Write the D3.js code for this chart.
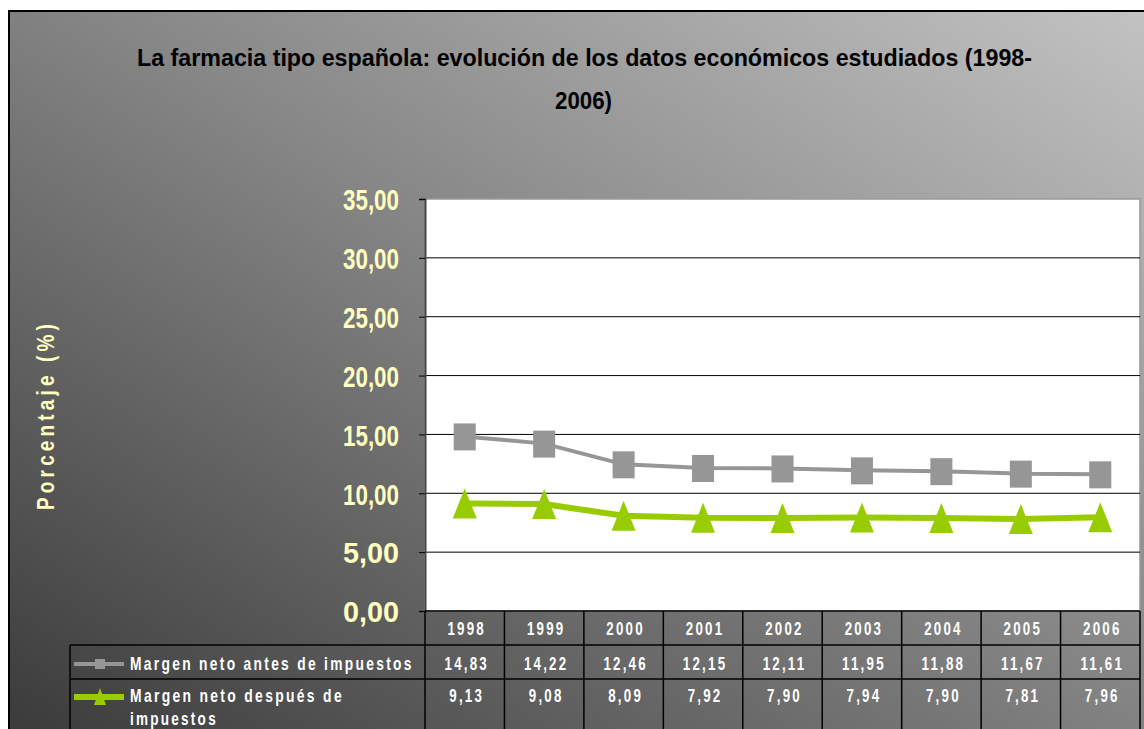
<!DOCTYPE html>
<html>
<head>
<meta charset="utf-8">
<script src="https://cdn.jsdelivr.net/npm/d3@7"></script>
<style>
  html, body { margin: 0; padding: 0; background: #fff; overflow: hidden; }
  text { font-family: "Liberation Sans Narrow", "Arial Narrow", "Liberation Sans", sans-serif; font-weight: bold; }
</style>
</head>
<body>
<div id="chart"></div>
<script>
const years = ["1998", "1999", "2000", "2001", "2002", "2003", "2004", "2005", "2006"];
const antes = [14.83, 14.22, 12.46, 12.15, 12.11, 11.95, 11.88, 11.67, 11.61];
const despues = [9.13, 9.08, 8.09, 7.92, 7.90, 7.94, 7.90, 7.81, 7.96];
const yTicks = [0, 5, 10, 15, 20, 25, 30, 35];
const seriesNames = ["Margen neto antes de impuestos", "Margen neto después de impuestos"];

const W = 1144, H = 729;
const plot = { left: 425, right: 1140, top: 199, bottom: 611 };

const es = d3.formatLocale({ decimal: ",", thousands: ".", grouping: [3], currency: ["", "€"] });
const fmt = es.format(".2f");

// no condensed font installed: squeeze glyphs to the widths seen in the picture
const squeeze = (sel, len) => sel.attr("textLength", len).attr("lengthAdjust", "spacingAndGlyphs");

// narrow a text horizontally with a transform so its box stays true
function narrow(sel, x0, y0, k, rot) {
  sel.attr("x", 0).attr("y", 0)
    .attr("transform", `translate(${x0},${y0})${rot ? " rotate(-90)" : ""} scale(${k},1)`);
  return sel;
}

const svg = d3.select("#chart").append("svg")
  .attr("width", W).attr("height", H);

const defs = svg.append("defs");
const grad = defs.append("linearGradient")
  .attr("id", "bg").attr("x1", "0%").attr("y1", "100%").attr("x2", "100%").attr("y2", "0%");
grad.append("stop").attr("offset", "0%").attr("stop-color", "#383838");
grad.append("stop").attr("offset", "55%").attr("stop-color", "#888");
grad.append("stop").attr("offset", "100%").attr("stop-color", "#c4c4c4");

// frame
svg.append("rect")
  .attr("x", 9).attr("y", 11).attr("width", W + 20).attr("height", H + 20)
  .attr("fill", "url(#bg)").attr("stroke", "#000").attr("stroke-width", 2);

// title
squeeze(svg.append("text").attr("x", 137).attr("y", 66)
  .attr("font-size", 24).attr("fill", "#000")
  .text("La farmacia tipo española: evolución de los datos económicos estudiados (1998-"), 895);
squeeze(svg.append("text").attr("x", 555).attr("y", 109)
  .attr("font-size", 24).attr("fill", "#000")
  .text("2006)"), 57);

const x = d3.scaleBand().domain(years).range([plot.left, plot.right]);
const y = d3.scaleLinear().domain([0, 35]).range([plot.bottom, plot.top]);

// plot area
svg.append("rect")
  .attr("x", plot.left).attr("y", plot.top)
  .attr("width", plot.right - plot.left).attr("height", plot.bottom - plot.top)
  .attr("fill", "#fff").attr("stroke", "#999").attr("stroke-width", 1.5);

// gridlines
svg.append("g").selectAll("line").data(yTicks.filter(d => d > 0 && d < 35)).join("line")
  .attr("x1", plot.left).attr("x2", plot.right)
  .attr("y1", d => y(d)).attr("y2", d => y(d))
  .attr("stroke", "#000").attr("stroke-width", 1);

// y axis
const yAxis = svg.append("g")
  .attr("transform", `translate(${plot.left},0)`)
  .call(d3.axisLeft(y).tickValues(yTicks).tickFormat(fmt).tickSize(6).tickPadding(20));
yAxis.select(".domain").attr("stroke", "#444").attr("stroke-width", 2);
yAxis.selectAll(".tick line").attr("stroke", "#000");
yAxis.selectAll(".tick text")
  .attr("fill", "#ffffc0").attr("font-size", 30)
  .attr("font-family", null).attr("font-weight", null)
  .attr("dy", "0.36em")
  .attr("textLength", 56).attr("lengthAdjust", "spacingAndGlyphs");

// y title
const yTitle = svg.append("text")
  .attr("text-anchor", "middle")
  .attr("font-size", 23).attr("letter-spacing", 5).attr("fill", "#ffffc0")
  .text("Porcentaje (%)");
narrow(yTitle, 54, 415, 190 / yTitle.node().getComputedTextLength(), true);

// series
const line = d3.line().x((d, i) => x(years[i]) + x.bandwidth() / 2).y(d => y(d));
const triangle = (w, up, down) => `M0,${-up}L${w / 2},${down}L${-w / 2},${down}Z`;

svg.append("path").datum(antes).attr("d", line)
  .attr("fill", "none").attr("stroke", "#969696").attr("stroke-width", 4);
svg.append("g").selectAll("rect").data(antes).join("rect")
  .attr("x", (d, i) => x(years[i]) + x.bandwidth() / 2 - 11)
  .attr("y", d => y(d) - 13)
  .attr("width", 22).attr("height", 27)
  .attr("fill", "#969696");

svg.append("path").datum(despues).attr("d", line)
  .attr("fill", "none").attr("stroke", "#99cc00").attr("stroke-width", 6);
svg.append("g").selectAll("path").data(despues).join("path")
  .attr("transform", (d, i) => `translate(${x(years[i]) + x.bandwidth() / 2},${y(d)})`)
  .attr("d", triangle(24, 15, 15)).attr("fill", "#99cc00");

// data table
const tbl = { left: 70, r0: 611, r1: 645, r2: 679, bottom: H + 20 };
const tg = svg.append("g").attr("stroke", "#000").attr("stroke-width", 1.5);
tg.append("line").attr("x1", plot.left).attr("x2", plot.right).attr("y1", tbl.r0).attr("y2", tbl.r0);
tg.append("line").attr("x1", tbl.left).attr("x2", plot.right).attr("y1", tbl.r1).attr("y2", tbl.r1);
tg.append("line").attr("x1", tbl.left).attr("x2", plot.right).attr("y1", tbl.r2).attr("y2", tbl.r2);
tg.append("line").attr("x1", tbl.left).attr("x2", tbl.left).attr("y1", tbl.r1).attr("y2", tbl.bottom);
tg.selectAll(".v").data(years.concat(["end"])).join("line")
  .attr("class", "v")
  .attr("x1", d => d === "end" ? plot.right : x(d))
  .attr("x2", d => d === "end" ? plot.right : x(d))
  .attr("y1", tbl.r0).attr("y2", tbl.bottom);

const cellText = (vals, yy, f) => svg.append("g").selectAll("text").data(vals).join("text")
  .attr("text-anchor", "middle")
  .attr("font-size", 18).attr("letter-spacing", 3).attr("fill", "#fff")
  .text(f)
  .each(function (d, i) {
    narrow(d3.select(this), x(years[i]) + x.bandwidth() / 2 + 2, yy, 0.74);
  });

cellText(years, 635, d => d);
cellText(antes, 670, d => fmt(d));
cellText(despues, 702, d => fmt(d));

// legend keys
svg.append("line").attr("x1", 74).attr("x2", 124).attr("y1", 664).attr("y2", 664)
  .attr("stroke", "#969696").attr("stroke-width", 4);
svg.append("rect").attr("x", 95).attr("y", 659).attr("width", 10).attr("height", 10).attr("fill", "#969696");
svg.append("line").attr("x1", 74).attr("x2", 124).attr("y1", 697).attr("y2", 697)
  .attr("stroke", "#99cc00").attr("stroke-width", 6);
svg.append("path").attr("transform", "translate(100,697)")
  .attr("d", triangle(12, 9, 8)).attr("fill", "#99cc00");

const legRow = (txt, yy, len) => {
  const t = svg.append("text").attr("font-size", 18).attr("letter-spacing", 3)
    .attr("fill", "#fff").text(txt);
  const k = len / t.node().getComputedTextLength();
  narrow(t, 130, yy, k);
};
legRow(seriesNames[0], 670, 284);
legRow("Margen neto después de", 702, 214);
legRow("impuestos", 725, 88);
</script>
</body>
</html>
